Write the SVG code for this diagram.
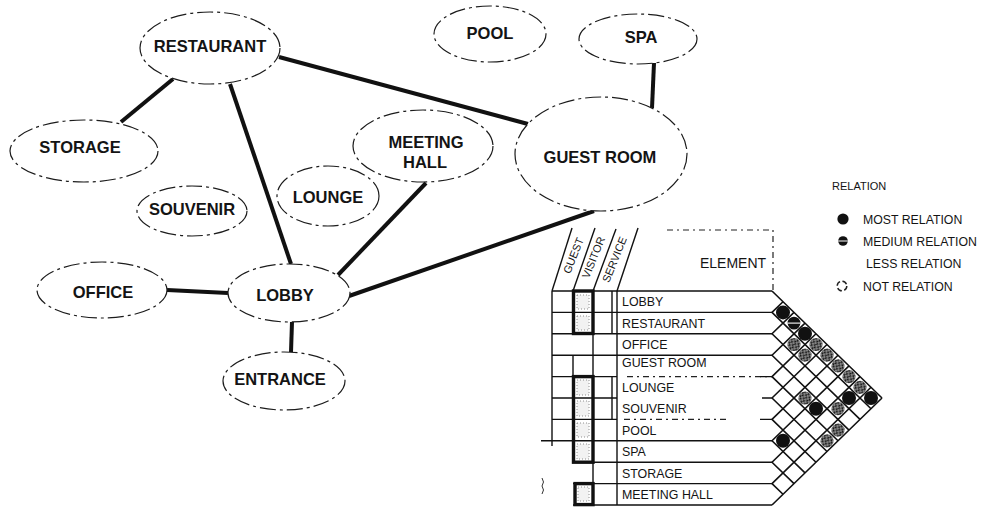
<svg xmlns="http://www.w3.org/2000/svg" width="983" height="507" viewBox="0 0 983 507">
  <defs>
    <style>
      .bubble ellipse { fill: #fff; stroke: #1c1c1c; stroke-width: 1.2; stroke-dasharray: 16 4 3 4; }
      .bubble text { font-family: "Liberation Sans", Arial, sans-serif; font-weight: bold; font-size: 16.5px; text-anchor: middle; fill: #141414; }
      .link { stroke: #111; stroke-width: 4; fill: none; }
      .rule { stroke: #111; stroke-width: 1.4; fill: none; }
      .rule-d { stroke: #222; stroke-width: 1.2; fill: none; stroke-dasharray: 6 4 2 4; }
      .thick { stroke: #111; stroke-width: 3.4; fill: none; }
      .stip { fill: #f2f2f2; stroke: #777; stroke-width: 0.8; stroke-dasharray: 1 2; }
      .grid { stroke: #111; stroke-width: 1.6; fill: none; }
      .lbl { font-family: "Liberation Sans", Arial, sans-serif; font-size: 12.4px; fill: #141414; }
      .hdr { font-family: "Liberation Sans", Arial, sans-serif; font-size: 11px; fill: #141414; }
      .leg { font-family: "Liberation Sans", Arial, sans-serif; font-size: 12.3px; fill: #141414; }
    </style>
    <!-- rough scribbled tone for the lesser relation -->
    <pattern id="hatch" width="4" height="4" patternUnits="userSpaceOnUse" patternTransform="rotate(35)">
      <rect width="4" height="4" fill="#1a1a1a"/>
      <line x1="0" y1="1" x2="2.5" y2="1" stroke="#fff" stroke-width="0.9"/>
      <line x1="1.5" y1="3" x2="4" y2="3" stroke="#fff" stroke-width="0.9"/>
    </pattern>
    <g id="most"><circle r="7" fill="#111"/></g>
    <g id="medium"><circle r="6.4" fill="#111"/><line x1="-6.4" y1="0" x2="6.4" y2="0" stroke="#fff" stroke-width="1.1"/></g>
    <g id="less"><circle r="6.6" fill="url(#hatch)"/></g>
  </defs>

  <rect width="983" height="507" fill="#fff"/>

  <!-- connectors -->
  <g id="connectors">
    <line class="link" x1="173" y1="79" x2="121" y2="122"/>
    <line class="link" x1="230" y1="84" x2="291" y2="264"/>
    <line class="link" x1="279" y1="57" x2="528" y2="124"/>
    <line class="link" x1="426" y1="183" x2="338" y2="275"/>
    <line class="link" x1="594" y1="211" x2="349" y2="296"/>
    <line class="link" x1="654" y1="63" x2="652" y2="108"/>
    <line class="link" x1="167" y1="290" x2="228" y2="293"/>
    <line class="link" x1="292" y1="322" x2="291" y2="352"/>
  </g>

  <!-- space bubbles -->
  <g id="restaurant" class="bubble"><ellipse cx="210" cy="48" rx="70" ry="36"/><text x="210" y="52">RESTAURANT</text></g>
  <g id="pool" class="bubble"><ellipse cx="490" cy="34" rx="56" ry="28"/><text x="490" y="39">POOL</text></g>
  <g id="spa" class="bubble"><ellipse cx="638" cy="39" rx="59" ry="25"/><text x="641" y="43">SPA</text></g>
  <g id="storage" class="bubble"><ellipse cx="84" cy="151" rx="74" ry="31"/><text x="80" y="153">STORAGE</text></g>
  <g id="souvenir" class="bubble"><ellipse cx="192" cy="211" rx="55" ry="25"/><text x="192" y="215">SOUVENIR</text></g>
  <g id="lounge" class="bubble"><ellipse cx="328" cy="196" rx="51" ry="30"/><text x="328" y="203">LOUNGE</text></g>
  <g id="meeting-hall" class="bubble"><ellipse cx="423" cy="146" rx="70" ry="36"/><text x="426" y="148">MEETING</text><text x="425" y="168">HALL</text></g>
  <g id="guest-room" class="bubble"><ellipse cx="601" cy="154" rx="86" ry="57"/><text x="600" y="163">GUEST ROOM</text></g>
  <g id="office" class="bubble"><ellipse cx="102" cy="290" rx="65" ry="28"/><text x="103" y="298">OFFICE</text></g>
  <g id="lobby" class="bubble"><ellipse cx="289" cy="293" rx="61" ry="29"/><text x="285" y="301">LOBBY</text></g>
  <g id="entrance" class="bubble"><ellipse cx="284" cy="381" rx="61" ry="29"/><text x="280" y="385">ENTRANCE</text></g>

  <!-- legend -->
  <g id="legend">
    <text class="leg" x="832" y="190" style="font-size:11px">RELATION</text>
    <circle cx="843" cy="219" r="5.6" fill="#111"/>
    <text class="leg" x="863" y="223.5">MOST RELATION</text>
    <circle cx="843" cy="241" r="4.8" fill="#111"/>
    <line x1="838.2" y1="241" x2="847.8" y2="241" stroke="#fff" stroke-width="1"/>
    <text class="leg" x="863" y="245.5">MEDIUM RELATION</text>
    <text class="leg" x="866" y="268">LESS RELATION</text>
    <circle cx="842" cy="286" r="4.8" fill="none" stroke="#222" stroke-width="1.5" stroke-dasharray="5 2.5"/>
    <text class="leg" x="863" y="290.5">NOT RELATION</text>
  </g>

  <!-- relation chart: user columns and element list -->
  <g id="chart-table">
    <!-- slanted column heads -->
    <line class="rule" x1="552" y1="291" x2="572" y2="228"/>
    <line class="rule" x1="573" y1="291" x2="595" y2="228"/>
    <line class="rule" x1="593" y1="291" x2="616" y2="229"/>
    <line class="rule" x1="617" y1="291" x2="638" y2="228"/>
    <text class="hdr" transform="translate(577 257) rotate(-68)" text-anchor="middle">GUEST</text>
    <text class="hdr" transform="translate(597 259) rotate(-68)" text-anchor="middle">VISITOR</text>
    <text class="hdr" transform="translate(618 261) rotate(-68)" text-anchor="middle">SERVICE</text>
    <!-- element header box -->
    <path class="rule-d" d="M667 230 H773 V291"/>
    <text x="700" y="268" style="font-family:'Liberation Sans',Arial,sans-serif;font-size:14px;fill:#141414">ELEMENT</text>

    <!-- row rules -->
    <path class="rule" d="M552 291 H772 M552 312.4 H772 M552 333.8 H772 M552 355.2 H772 M552 376.6 H617 M552 398 H617 M552 419.4 H617 M541 440.8 H772 M573 462.2 H772 M573 483.6 H772 M573 505 H772"/>
    <path class="rule-d" d="M627 376.6 H772 M624 419.4 H730"/>
    <path class="rule" d="M760 376.6 H772 M762 398 H772 M760 419.4 H772"/>

    <!-- column rules -->
    <path class="rule" d="M552 291 V446 M617 291 V505 M612 291 V334 M612 376 V419 M573 355 V377 M593 333 V377 M593 462 V484"/>
    <path d="M542 478 q3 4 0 8 q3 4 0 8" fill="none" stroke="#333" stroke-width="1"/>

    <!-- shaded cells -->
    <rect class="stip" x="577" y="295" width="12" height="14"/>
    <rect class="stip" x="577" y="316" width="12" height="14"/>
    <rect class="stip" x="577" y="380" width="12" height="15"/>
    <rect class="stip" x="577" y="401" width="12" height="15"/>
    <rect class="stip" x="577" y="423" width="12" height="14"/>
    <rect class="stip" x="577" y="444" width="12" height="15"/>
    <rect class="stip" x="578" y="487" width="11" height="14"/>
    <rect class="thick" x="573.5" y="291" width="19.5" height="42.5"/>
    <rect class="thick" x="573.5" y="376.6" width="19.5" height="85.6"/>
    <rect class="thick" x="575" y="483.6" width="18" height="21"/>

    <!-- element names -->
    <text class="lbl" x="622" y="306">LOBBY</text>
    <text class="lbl" x="622" y="327.5">RESTAURANT</text>
    <text class="lbl" x="622" y="349">OFFICE</text>
    <text class="lbl" x="622" y="367">GUEST ROOM</text>
    <text class="lbl" x="622" y="391.5">LOUNGE</text>
    <text class="lbl" x="622" y="413">SOUVENIR</text>
    <text class="lbl" x="622" y="434.5">POOL</text>
    <text class="lbl" x="622" y="456">SPA</text>
    <text class="lbl" x="622" y="477.5">STORAGE</text>
    <text class="lbl" x="622" y="498.5">MEETING HALL</text>
  </g>

  <!-- relation chart: diamond matrix -->
  <g id="chart-matrix">
    <path class="grid" d="
      M772 291 L882 398
      M772 312.4 L871 408.7
      M772 333.8 L860 419.4
      M772 355.2 L849 430.1
      M772 376.6 L838 440.8
      M772 398 L827 451.5
      M772 419.4 L816 462.2
      M772 440.8 L805 472.9
      M772 462.2 L794 483.6
      M772 483.6 L783 494.3
      M772 312.4 L783 301.7
      M772 333.8 L794 312.4
      M772 355.2 L805 323.1
      M772 376.6 L816 333.8
      M772 398 L827 344.5
      M772 419.4 L838 355.2
      M772 440.8 L849 365.9
      M772 462.2 L860 376.6
      M772 483.6 L871 387.3
      M772 505 L882 398"/>
    <!-- most -->
    <use href="#most" x="783" y="312.4"/>
    <use href="#most" x="805" y="333.8"/>
    <use href="#most" x="849" y="398"/>
    <use href="#most" x="871" y="398"/>
    <use href="#most" x="816" y="408.7"/>
    <use href="#most" x="783" y="440.8"/>
    <!-- medium -->
    <use href="#medium" x="794" y="323.1"/>
    <!-- less -->
    <use href="#less" x="816" y="344.5"/>
    <use href="#less" x="827" y="355.2"/>
    <use href="#less" x="838" y="365.9"/>
    <use href="#less" x="849" y="376.6"/>
    <use href="#less" x="860" y="387.3"/>
    <use href="#less" x="794" y="344.5"/>
    <use href="#less" x="805" y="355.2"/>
    <use href="#less" x="805" y="398"/>
    <use href="#less" x="838" y="408.7"/>
    <use href="#less" x="838" y="430.1"/>
    <use href="#less" x="827" y="440.8"/>
  </g>
</svg>
